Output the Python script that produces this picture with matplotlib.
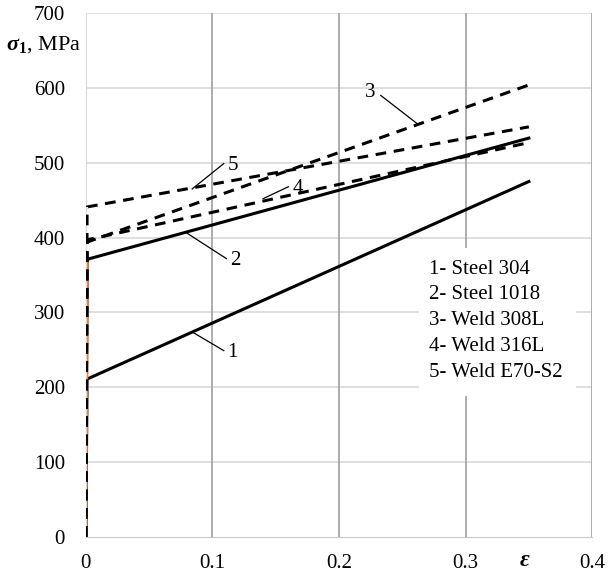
import matplotlib.pyplot as plt
from matplotlib.patches import Rectangle

# stress-strain curves (strain, MPa): origin, yield point, end point
names = ['1- Steel 304', '2- Steel 1018', '3- Weld 308L', '4- Weld 316L', '5- Weld E70-S2']
strain_1 = [0, 0.001, 0.35]
stress_1 = [0, 211, 475]
strain_2 = [0, 0.001, 0.35]
stress_2 = [0, 371, 533]
strain_3 = [0, 0.001, 0.35]
stress_3 = [0, 394, 604]
strain_4 = [0, 0.001, 0.35]
stress_4 = [0, 397, 527]
strain_5 = [0, 0.001, 0.35]
stress_5 = [0, 441, 548]

# curve labels: (text, leader start, leader end)
labels = ['1', '2', '3', '4', '5']
lead_from = [(0.085, 273), (0.079, 407), (0.262, 552), (0.140, 452), (0.084, 465)]
lead_to = [(0.109, 249), (0.111, 372), (0.233, 590), (0.160, 468), (0.109, 499)]

plt.rcParams['font.family'] = ['Liberation Serif', 'DejaVu Serif']
plt.rcParams['mathtext.fontset'] = 'custom'
plt.rcParams['mathtext.bf'] = 'Liberation Serif:bold:italic'
plt.rcParams['mathtext.sf'] = 'Liberation Serif:bold'
plt.rcParams['mathtext.rm'] = 'Liberation Serif'

fig = plt.figure(figsize=(6.13, 5.77), dpi=100)
ax = fig.add_axes([0.140, 0.0693, 0.826, 0.908])

ax.set_xlim(0, 0.4)
ax.set_ylim(0, 700)
ax.set_xticks([0, 0.1, 0.2, 0.3, 0.4])
ax.set_xticklabels(['0', '0.1', '0.2', '0.3', '0.4'])
ax.set_yticks(range(0, 701, 100))
ax.tick_params(length=0, labelsize=15, pad=12)
ax.tick_params(axis='y', pad=15)

for y in range(100, 701, 100):
    ax.axhline(y, color='#d9d9d9', lw=1.2, zorder=0)
for x in [0.1, 0.2, 0.3, 0.4]:
    ax.axvline(x, color='#a0a0a0', lw=1.2, zorder=0)
for s in ['top', 'right']:
    ax.spines[s].set_visible(False)
ax.spines['left'].set_color('#d9d9d9')
ax.spines['bottom'].set_color('#c8c8c8')

ax.plot(strain_1, stress_1, color='black', lw=2.2, zorder=2)
ax.plot(strain_2, stress_2, color='black', lw=2.2, zorder=2)

# elastic part shown in orange, over the solid lines and under the dashed ones
ax.plot(strain_2[:2], stress_2[:2], color='#ed7d31', lw=2.4, zorder=2.5)

ax.plot(strain_3, stress_3, color='black', lw=2.2, ls=(0, (3.5, 2.5)), zorder=3)
ax.plot(strain_4, stress_4, color='black', lw=2.2, ls=(0, (3.5, 2.5)), zorder=3)
ax.plot(strain_5, stress_5, color='black', lw=2.2, ls=(0, (3.5, 2.5)), zorder=3)

for lab, p0, p1 in zip(labels, lead_from, lead_to):
    ax.plot([p0[0], p1[0]], [p0[1], p1[1]], color='black', lw=0.9, zorder=3)
    if lab == '3':
        ax.text(p1[0] - 0.004, p1[1] + 4, lab, fontsize=15, ha='right', va='center')
    else:
        ax.text(p1[0] + 0.003, p1[1] - 2, lab, fontsize=15, ha='left', va='center')

# legend box
ax.add_patch(Rectangle((0.263, 188), 0.124, 198, facecolor='white',
                       edgecolor='none', zorder=1))
for i, name in enumerate(names):
    ax.text(0.271, 358 - i * 34.5, name, fontsize=15, ha='left', va='center', zorder=4)

fig.text(0.010, 0.922, r'$\mathbf{\sigma}_{\mathsf{1}}$, MPa', fontsize=16, ha='left', va='center')
ax.text(0.347, -32, r'$\mathbf{\varepsilon}$', fontsize=17, ha='center', va='center')

fig.savefig('out.png', dpi=100)
